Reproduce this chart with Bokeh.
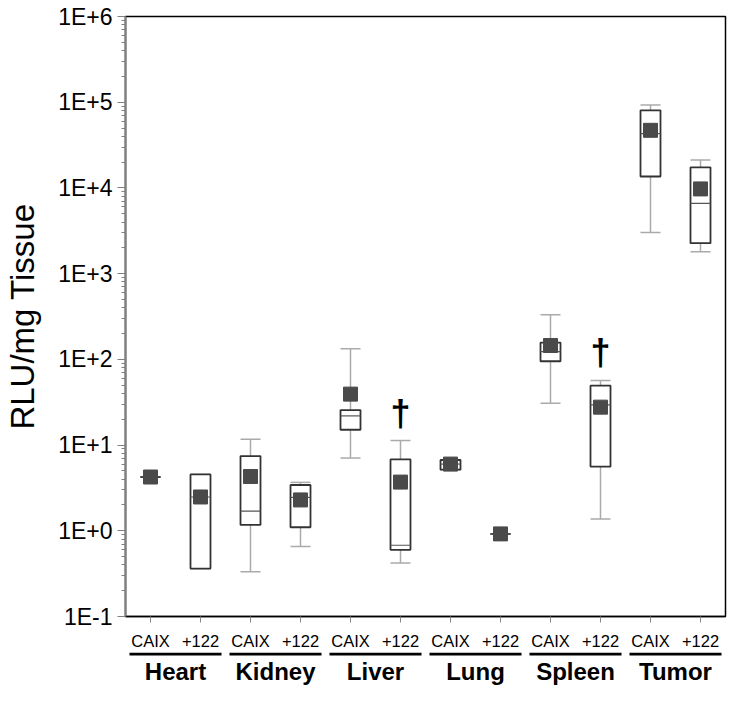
from bokeh.plotting import figure
from bokeh.models import Range1d, FixedTicker
from bokeh.layouts import column
from bokeh.embed import file_html
from bokeh.resources import INLINE
from bokeh.core.properties import value

# ---------------- data ----------------
groups = ["Heart", "Kidney", "Liver", "Lung", "Spleen", "Tumor"]
treatments = ["CAIX", "+122"]

whisker_low  = [4.24, 0.362, 0.332, 0.655, 7.06, 0.42, 5.16, 0.92, 30.8, 1.37, 3030, 1800]
q1           = [4.24, 0.362, 1.17, 1.10, 15.1, 0.60, 5.16, 0.92, 95, 5.59, 13600, 2270]
median       = [4.24, 2.48, 1.70, 2.45, 21.9, 0.678, 6.0, 0.92, 123, 29.4, 43000, 6590]
q3           = [4.24, 4.55, 7.45, 3.42, 25.6, 6.8, 6.7, 0.92, 157, 49.4, 80400, 17400]
whisker_high = [4.24, 4.55, 11.7, 3.67, 133, 11.3, 6.7, 0.92, 332, 56.5, 92700, 21200]
mean         = [4.24, 2.48, 4.3, 2.29, 39.3, 3.7, 6.0, 0.92, 145, 27.7, 47000, 9740]

dagger_index = [5, 9]
dagger_y = [23.2, 119]

y_ticks = [0.1, 1, 10, 100, 1000, 10000, 100000, 1000000]
y_tick_labels = ["1E-1", "1E+0", "1E+1", "1E+2", "1E+3", "1E+4", "1E+5", "1E+6"]

# ---------------- derived ----------------
n = len(mean)
xpos = list(range(n))
x_labels = [treatments[i % 2] for i in range(n)]
minor = [m * t for t in y_ticks[:-1] for m in range(2, 10)]
half = 0.2

FONT = "Liberation Sans"

p = figure(frame_width=600, frame_height=600, y_axis_type="log",
           x_range=Range1d(-0.5, 11.5), y_range=Range1d(0.1, 1e6),
           output_backend="svg", toolbar_location=None,
           min_border_left=125, min_border_right=8, min_border_top=16, min_border_bottom=0)
p.grid.visible = False
p.outline_line_color = "black"
p.outline_line_width = 1.5
p.background_fill_color = "white"
p.border_fill_color = "white"

# whiskers
p.segment(x0=xpos, y0=whisker_low, x1=xpos, y1=q1, line_color="#aaaaaa", line_width=1.5)
p.segment(x0=xpos, y0=q3, x1=xpos, y1=whisker_high, line_color="#aaaaaa", line_width=1.5)
p.segment(x0=[x - half for x in xpos], y0=whisker_low, x1=[x + half for x in xpos], y1=whisker_low,
          line_color="#aaaaaa", line_width=1.5)
p.segment(x0=[x - half for x in xpos], y0=whisker_high, x1=[x + half for x in xpos], y1=whisker_high,
          line_color="#aaaaaa", line_width=1.5)
# boxes
p.vbar(x=xpos, width=2 * half, bottom=q1, top=q3, fill_color="white",
       line_color="#333333", line_width=1.8)
# medians
p.segment(x0=[x - half for x in xpos], y0=median, x1=[x + half for x in xpos], y1=median,
          line_color="#555555", line_width=1.2)
# means
p.scatter(x=xpos, y=mean, marker="square", size=14, fill_color="#4a4a4a", line_color="#4a4a4a")
# daggers
p.text(x=dagger_index, y=dagger_y, text=["\u2020"] * len(dagger_index),
       text_font=value(FONT), text_font_style="bold", text_font_size="36px",
       text_align="center", text_baseline="middle", text_color="black")

# y axis
ya = p.yaxis[0]
ya.ticker = FixedTicker(ticks=y_ticks, minor_ticks=minor)
ya.major_label_overrides = {t: l for t, l in zip(y_ticks, y_tick_labels)}
ya.axis_label = "RLU/mg Tissue"
ya.axis_label_text_font = FONT
ya.axis_label_text_font_size = "33px"
ya.axis_label_text_font_style = "normal"
ya.axis_label_text_color = "black"
ya.axis_label_standoff = 14
ya.major_label_text_font = FONT
ya.major_label_text_font_size = "23px"
ya.major_label_text_color = "black"
ya.major_label_standoff = 5
ya.axis_line_color = "#808080"
ya.axis_line_width = 2
ya.major_tick_line_color = "#808080"
ya.minor_tick_line_color = "#808080"
ya.major_tick_out = 8
ya.major_tick_in = 0
ya.minor_tick_out = 4
ya.minor_tick_in = 0

# x axis: treatment labels
xa = p.xaxis[0]
xa.ticker = FixedTicker(ticks=xpos)
xa.major_label_overrides = {i: l for i, l in zip(xpos, x_labels)}
xa.major_label_text_font = FONT
xa.major_label_text_font_size = "16.5px"
xa.major_label_text_color = "black"
xa.major_label_standoff = 9
xa.axis_line_color = "black"
xa.axis_line_width = 1.5
xa.major_tick_line_color = "#888888"
xa.major_tick_out = 6
xa.major_tick_in = 0

# ---------------- group label strip ----------------
q = figure(frame_width=600, frame_height=50, x_range=p.x_range, y_range=Range1d(50, 0),
           output_backend="svg", toolbar_location=None,
           x_axis_location=None, y_axis_location=None,
           min_border_left=125, min_border_right=8, min_border_top=0, min_border_bottom=0)
q.grid.visible = False
q.outline_line_color = None
q.background_fill_color = "white"
q.border_fill_color = "white"

gcent = [2 * g + 0.5 for g in range(len(groups))]
q.segment(x0=[c - 0.92 for c in gcent], y0=[1.6] * len(groups),
          x1=[c + 0.92 for c in gcent], y1=[1.6] * len(groups),
          line_color="black", line_width=3)
q.text(x=gcent, y=[19] * len(groups), text=groups, text_font=value(FONT),
       text_font_style="bold", text_font_size="24px", text_align="center",
       text_baseline="middle", text_color="black")

layout = column(p, q, spacing=0)
open("out.html", "w").write(file_html(layout, INLINE))
